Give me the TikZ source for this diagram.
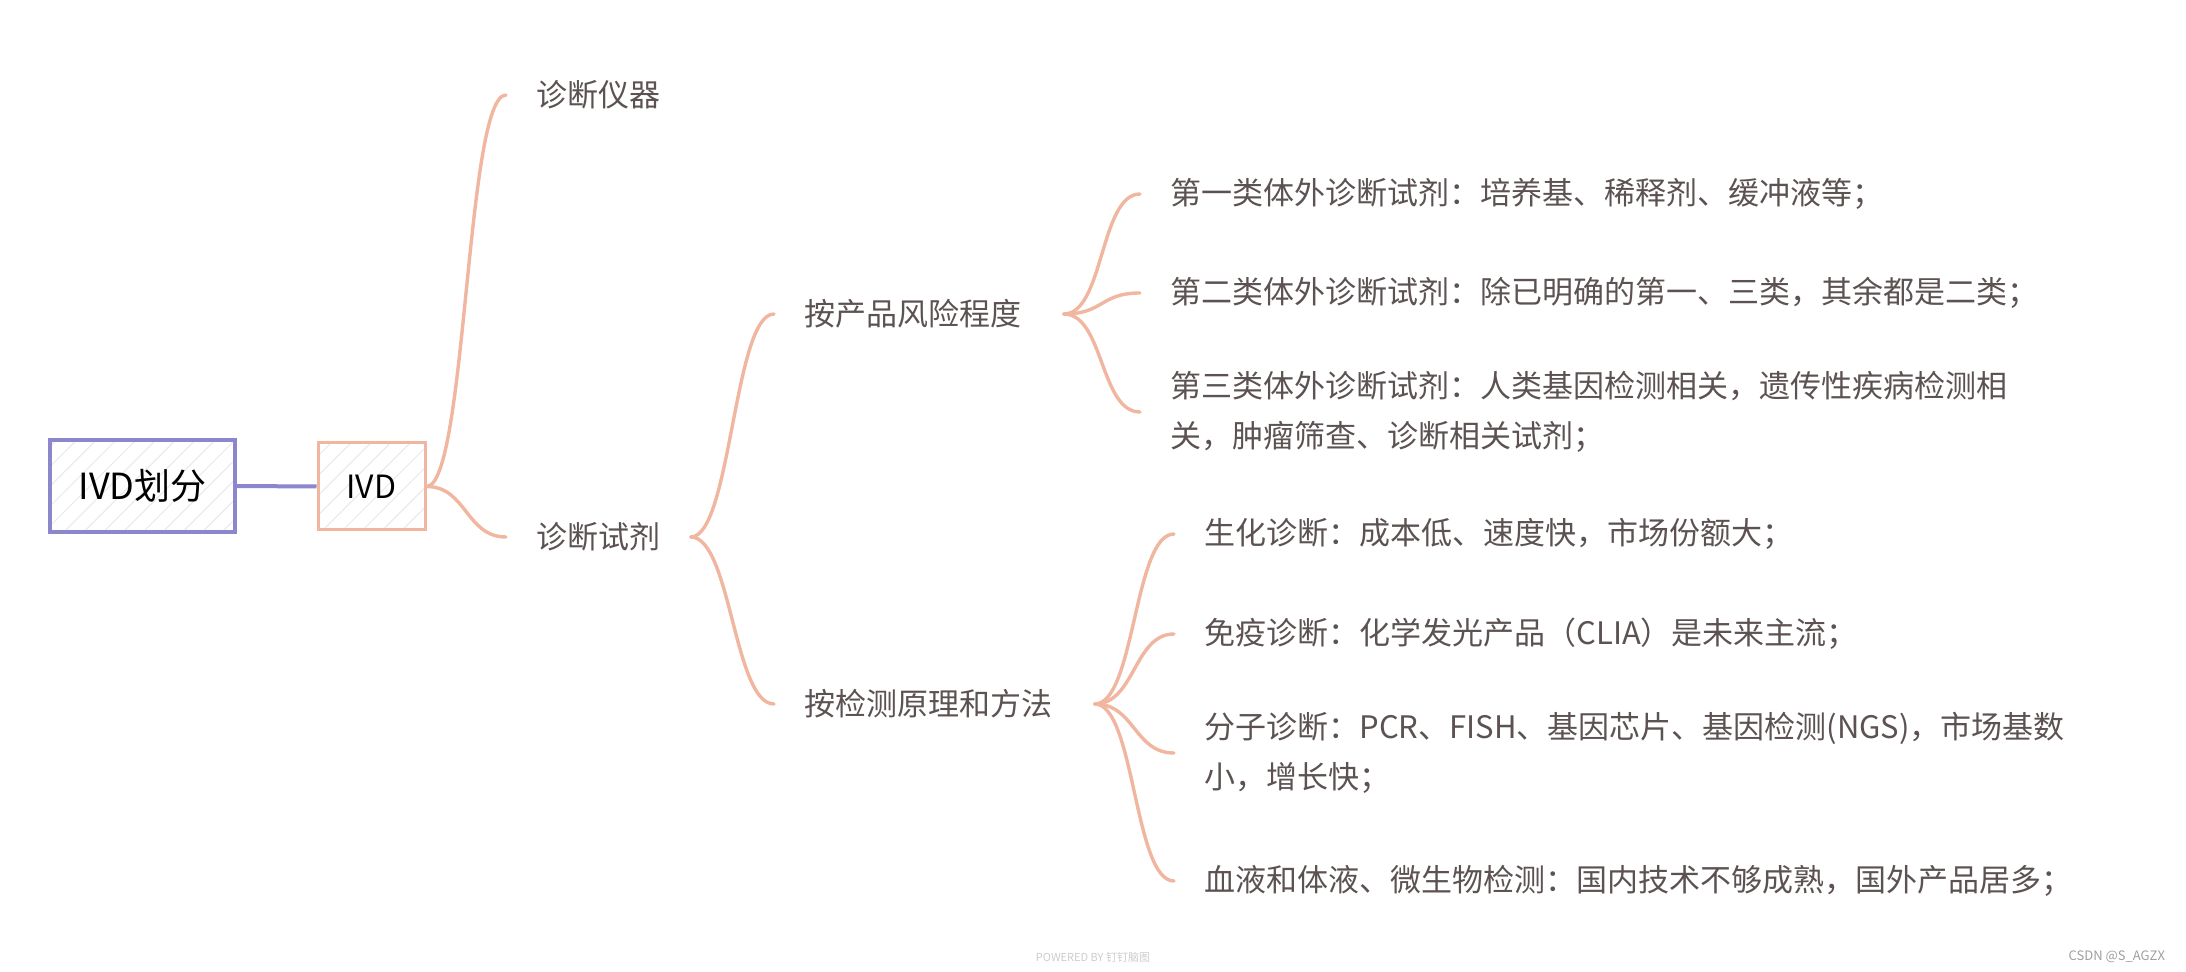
\documentclass[tikz,border=0pt]{standalone}
\usepackage{fontspec}
\setmainfont{Noto Sans CJK SC}
\usetikzlibrary{patterns.meta}
\definecolor{peach}{RGB}{240,182,160}
\definecolor{lav}{RGB}{140,134,204}
\definecolor{ink}{RGB}{92,82,82}
\tikzset{
  txt/.style={text=ink, font=\fontsize{15.5}{25}\selectfont, inner xsep=15pt, inner ysep=2pt, align=left, anchor=west},
  branch/.style={draw=peach, line width=1.7pt, line cap=round},
  hatchbox/.style={pattern={Lines[angle=45,distance=7pt,line width=0.5pt]}, pattern color=gray!18},
  rootbox/.style={hatchbox, draw=lav, line width=1.6pt, minimum width=92.5pt, minimum height=46pt, font=\fontsize{18}{18}\selectfont, text=black, inner sep=0pt},
  ivdbox/.style={hatchbox, draw=peach, line width=1.5pt, minimum width=53.5pt, minimum height=43.5pt, font=\fontsize{16}{16}\selectfont, text=black, inner sep=0pt},
}
\begin{document}
\begin{tikzpicture}[x=0.5pt,y=-0.5pt]
\useasboundingbox (0,0) rectangle (2186,972);

\node[rootbox] (root) at (142.5,486) {IVD划分};
\node[ivdbox] (ivd) at (371.5,486.5) {IVD};

\node[txt] (yq) at (506,95) {诊断仪器};
\node[txt] (sj) at (506,537) {诊断试剂};

\node[txt] (fx) at (774,314) {按产品风险程度};
\node[txt] (jc) at (774,704) {按检测原理和方法};

\node[txt] (c1) at (1140,194) {第一类体外诊断试剂：培养基、稀释剂、缓冲液等；};
\node[txt] (c2) at (1140,293) {第二类体外诊断试剂：除已明确的第一、三类，其余都是二类；};
\node[txt] (c3) at (1140,412) {第三类体外诊断试剂：人类基因检测相关，遗传性疾病检测相\\关，肿瘤筛查、诊断相关试剂；};

\node[txt] (m1) at (1174,534) {生化诊断：成本低、速度快，市场份额大；};
\node[txt] (m2) at (1174,634) {免疫诊断：化学发光产品（CLIA）是未来主流；};
\node[txt] (m3) at (1174,753) {分子诊断：PCR、FISH、基因芯片、基因检测(NGS)，市场基数\\小，增长快；};
\node[txt] (m4) at (1174,881) {血液和体液、微生物检测：国内技术不够成熟，国外产品居多；};

\draw[draw=lav, line width=2pt] (root.east) -- (ivd.west);

\draw[branch] (ivd.east) .. controls +(40,0) and +(-40,0) .. (yq.west);
\draw[branch] (ivd.east) .. controls +(40,0) and +(-40,0) .. (sj.west);

\draw[branch] (sj.east) .. controls +(40,0) and +(-40,0) .. (fx.west);
\draw[branch] (sj.east) .. controls +(40,0) and +(-40,0) .. (jc.west);

\draw[branch] ([xshift=6pt]fx.east) .. controls +(40,0) and +(-40,0) .. (c1.west);
\draw[branch] ([xshift=6pt]fx.east) .. controls +(40,0) and +(-40,0) .. (c2.west);
\draw[branch] ([xshift=6pt]fx.east) .. controls +(40,0) and +(-40,0) .. (c3.west);

\draw[branch] ([xshift=6pt]jc.east) .. controls +(40,0) and +(-40,0) .. (m1.west);
\draw[branch] ([xshift=6pt]jc.east) .. controls +(40,0) and +(-40,0) .. (m2.west);
\draw[branch] ([xshift=6pt]jc.east) .. controls +(40,0) and +(-40,0) .. (m3.west);
\draw[branch] ([xshift=6pt]jc.east) .. controls +(40,0) and +(-40,0) .. (m4.west);

\node[font=\fontsize{5.5}{6}\selectfont, text=gray!40] (pw) at (1093,957) {POWERED BY 钉钉脑图};
\node[font=\fontsize{6.5}{7}\selectfont, text=gray!75, anchor=east] (csdn) at (2172,957) {CSDN @S\_AGZX};
\end{tikzpicture}
\end{document}
